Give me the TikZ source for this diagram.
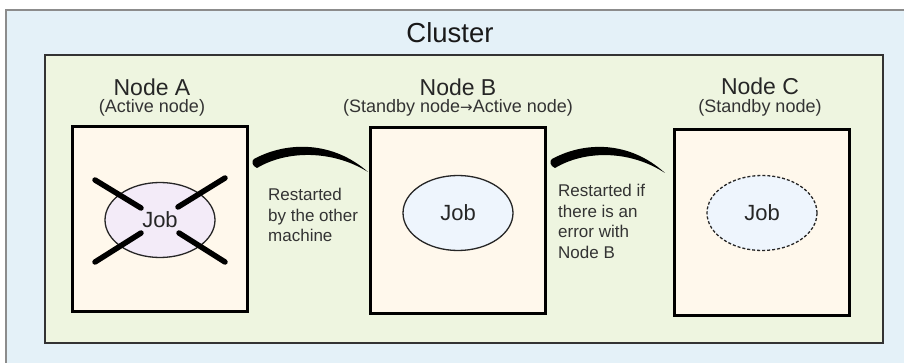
\documentclass[tikz,border=0pt]{standalone}
\usepackage{fontspec}
\setmainfont{Liberation Sans}
\newfontfamily\arrowfont{DejaVu Sans}
\usetikzlibrary{shapes.geometric,calc}
\begin{document}
\begin{tikzpicture}[x=1pt,y=-1pt,
  nodebox/.style={draw=black,line width=3pt,fill=nodefill,minimum width=175pt,minimum height=185pt,inner sep=0pt},
  title/.style={text=black!85,font=\fontsize{23}{25}\selectfont,inner sep=0pt},
  subtitle/.style={text=black!80,font=\fontsize{18}{20}\selectfont,inner sep=0pt},
  side/.style={text=black!80,font=\fontsize{17}{20.5}\selectfont,align=left,inner sep=0pt,anchor=north west},
  job/.style={ellipse,draw=black!85,line width=1.3pt,minimum width=110pt,minimum height=75pt,inner sep=0pt,font=\fontsize{22}{23}\selectfont,text=black!85},
  curvearrow/.style={fill=black}
]
\definecolor{outerfill}{HTML}{E4F1F8}
\definecolor{innerfill}{HTML}{EEF5E0}
\definecolor{nodefill}{HTML}{FFF8EC}
\definecolor{jobA}{HTML}{F3EBF8}
\definecolor{jobB}{HTML}{EEF5FD}
\useasboundingbox (0,0) rectangle (904,363);
\fill[white] (0,0) rectangle (904,363);
% outer cluster area
\fill[outerfill] (6,10) rectangle (904,363);
\draw[black!45,line width=1.2pt] (6,363) -- (6,10) -- (904,10);
\node[inner sep=0pt,text=black!90,font=\fontsize{27.5}{29}\selectfont] (cl) at (450,33) {Cluster};
% inner box
\node[draw=black!80,line width=1.4pt,fill=innerfill,minimum width=838pt,minimum height=288pt,inner sep=0pt] (inner) at (464,199) {};
% node boxes
\node[nodebox] (A) at (159.5,219) {};
\node[nodebox] (B) at (457.5,220.5) {};
\node[nodebox] (C) at (761.5,222.5) {};
% titles
\node[title] (tA) at (152,87) {Node A};
\node[subtitle] (sA) at (152,108) {(Active node)};
\node[title] (tB) at (458,87) {Node B};
\node[subtitle] (sB) at (458,108) {(Standby node{\arrowfont\fontsize{15}{18}\selectfont →}Active node)};
\node[title] (tC) at (760,86) {Node C};
\node[subtitle] (sC) at (760,108) {(Standby node)};
% jobs
\node[job,fill=jobA] (jA) at (160,220) {};
\draw[line width=5.5pt,line cap=round] (95,180) -- (141,208);
\draw[line width=5.5pt,line cap=round] (225,178) -- (178,207);
\draw[line width=5.5pt,line cap=round] (95,262) -- (141,233);
\draw[line width=5.5pt,line cap=round] (225,262) -- (179,233);
\node[inner sep=0pt,font=\fontsize{22}{23}\selectfont,text=black!85] (jAt) at (160,220) {Job};
\node[job,fill=jobB] (jB) at (458,213) {Job};
\node[job,fill=jobB,dashed,dash pattern=on 3pt off 2pt] (jC) at (762,213) {Job};
% curved arrows
\coordinate (a1s) at (255,163);
\coordinate (a1e) at (368,172);
\fill[curvearrow] ($(a1s)+(-1,-4)$) .. controls (287,141) and (333,141) .. (a1e)
  .. controls (333,150) and (287,150) .. ($(a1s)+(2,5)$) .. controls ($(a1s)+(-3,3)$) and ($(a1s)+(-4,-2)$) .. ($(a1s)+(-1,-4)$) -- cycle;
\coordinate (a2s) at (553,163);
\coordinate (a2e) at (665,173);
\fill[curvearrow] ($(a2s)+(-1,-4)$) .. controls (585,141) and (630,141) .. (a2e)
  .. controls (630,150) and (585,150) .. ($(a2s)+(2,5)$) .. controls ($(a2s)+(-3,3)$) and ($(a2s)+(-4,-2)$) .. ($(a2s)+(-1,-4)$) -- cycle;
% side labels
\node[side] (l1) at (268,188) {Restarted\\by the other\\machine};
\node[side] (l2) at (558,184) {Restarted if\\there is an\\error with\\Node B};
\end{tikzpicture}
\end{document}
